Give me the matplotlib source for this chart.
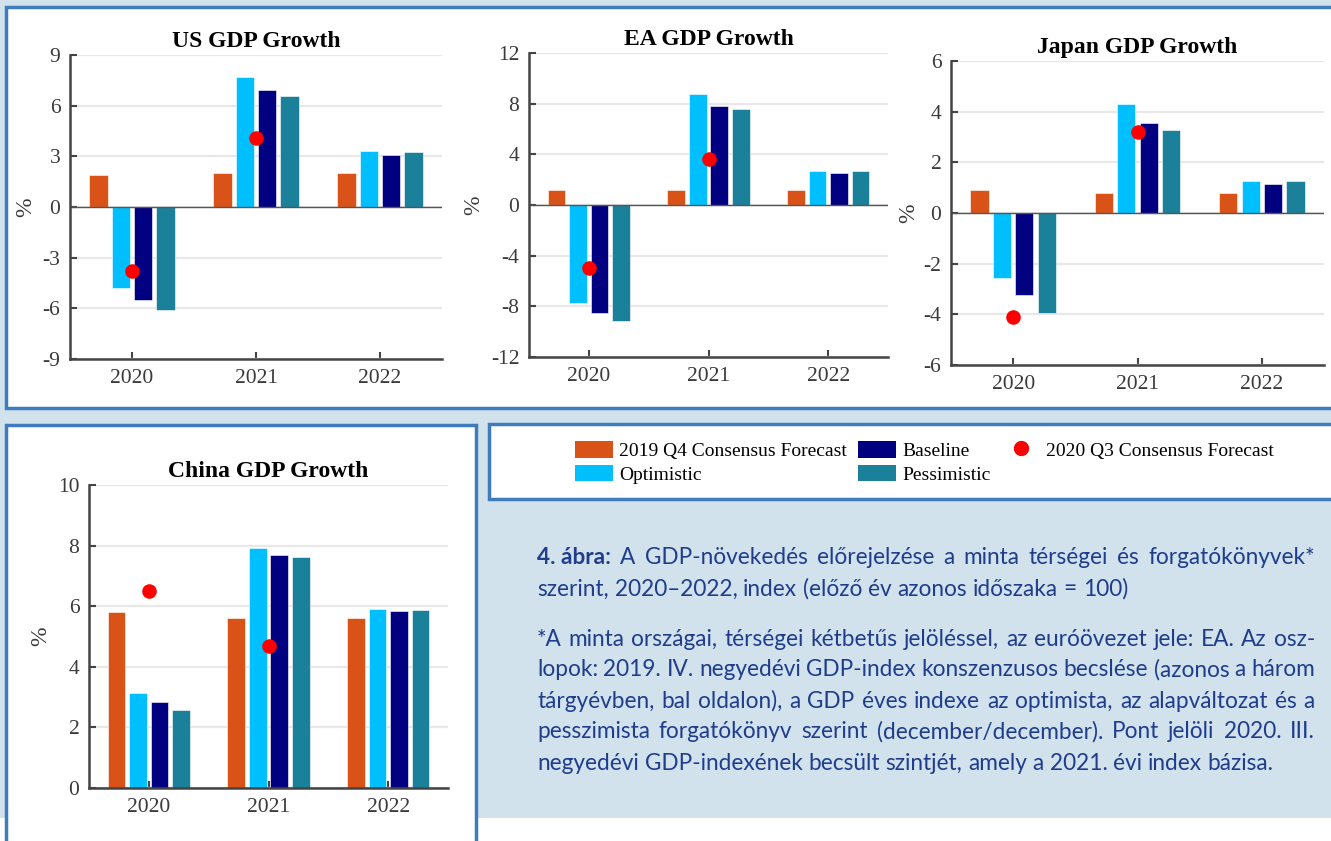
import matplotlib
matplotlib.use('Agg')
import matplotlib.pyplot as plt
import numpy as np
from matplotlib.patches import Rectangle, Patch
from matplotlib.lines import Line2D

plt.rcParams['axes.unicode_minus'] = False
plt.rcParams['font.family'] = 'Liberation Serif'

# Data.
years = [2020, 2021, 2022]
series_names = ['2019 Q4 Consensus Forecast', 'Optimistic', 'Baseline', 'Pessimistic']
dot_name = '2020 Q3 Consensus Forecast'
colors = ['#d95319', '#00bfff', '#000080', '#1b8099']

us_consensus = [1.9, 2.0, 2.0]
us_optimistic = [-4.8, 7.7, 3.3]
us_baseline = [-5.5, 6.9, 3.1]
us_pessimistic = [-6.1, 6.6, 3.25]
us_q3 = [-3.8, 4.1]

ea_consensus = [1.15, 1.15, 1.15]
ea_optimistic = [-7.75, 8.8, 2.7]
ea_baseline = [-8.5, 7.85, 2.5]
ea_pessimistic = [-9.15, 7.55, 2.65]
ea_q3 = [-5.0, 3.65]

jp_consensus = [0.9, 0.8, 0.8]
jp_optimistic = [-2.55, 4.3, 1.25]
jp_baseline = [-3.25, 3.55, 1.13]
jp_pessimistic = [-3.95, 3.27, 1.27]
jp_q3 = [-4.1, 3.2]

cn_consensus = [5.8, 5.6, 5.6]
cn_optimistic = [3.13, 7.93, 5.9]
cn_baseline = [2.85, 7.68, 5.84]
cn_pessimistic = [2.57, 7.64, 5.86]
cn_q3 = [6.5, 4.7]

caption_bold = '4. ábra:'
caption_lines = [
    'A GDP-növekedés előrejelzése a minta térségei és forgatókönyvek*',
    'szerint, 2020–2022, index (előző év azonos időszaka = 100)',
    '*A minta országai, térségei kétbetűs jelöléssel, az euróövezet jele: EA. Az osz-',
    'lopok: 2019. IV. negyedévi GDP-index konszenzusos becslése (azonos a három',
    'tárgyévben, bal oldalon), a GDP éves indexe az optimista, az alapváltozat és a',
    'pesszimista forgatókönyv szerint (december/december). Pont jelöli 2020. III.',
    'negyedévi GDP-indexének becsült szintjét, amely a 2021. évi index bázisa.',
]

W, H = 1331, 841
fig = plt.figure(figsize=(W / 100, H / 100), dpi=100)
fig.patch.set_facecolor('white')

bg = '#d1e2ec'
border = '#3f7cbd'
txt_blue = '#1f3d8c'


def px_rect(x0, y0, x1, y1, fc, ec='none', lw=0):
    r = Rectangle((x0 / W, 1 - y1 / H), (x1 - x0) / W, (y1 - y0) / H,
                  transform=fig.transFigure, facecolor=fc, edgecolor=ec,
                  linewidth=lw, zorder=-10)
    fig.patches.append(r)


def px_axes(l, t, r, b):
    return fig.add_axes([l / W, 1 - b / H, (r - l) / W, (b - t) / H])


# Background and boxes.
px_rect(-5, -5, W + 5, 818, bg)
px_rect(6, 7, W + 10, 408, 'white', border, 2.5)
px_rect(6, 425, 476, H + 10, 'white', border, 2.5)
px_rect(489, 424, W + 10, 499, 'white', border, 2.5)

x = np.arange(len(years))
step = 0.18
width = 0.147


def panel(ax, title, cons, opt, base, pess, q3, ylim, yticks, label_x):
    for i, (vals, c) in enumerate(zip([cons, opt, base, pess], colors)):
        ax.bar(x + (i - 1.5) * step, vals, width=width, color=c,
               edgecolor='white', linewidth=0.4, zorder=3)
    ax.axhline(0, color='#555555', lw=1.0, zorder=3.5)
    ax.scatter(x[:2], q3, s=110, color='#ff0000', zorder=5, linewidths=0)
    ax.set_xlim(-0.5, 2.5)
    ax.set_ylim(*ylim)
    ax.set_yticks(yticks)
    ax.set_xticks(x)
    ax.set_xticklabels([str(y) for y in years])
    ax.yaxis.grid(True, color='#e8e8e8', lw=1.6, zorder=0)
    ax.set_axisbelow(True)
    for s in ['top', 'right']:
        ax.spines[s].set_visible(False)
    for s in ['left', 'bottom']:
        ax.spines[s].set_color('#444444')
        ax.spines[s].set_linewidth(1.8)
        ax.spines[s].set_zorder(6)
    ax.tick_params(direction='in', length=5, width=1.5, color='#444444',
                   labelsize=15.5, labelcolor='#3a3a3a', pad=7)
    ax.set_title(title, fontsize=17, fontweight='bold', pad=6)
    ax.set_ylabel('%', fontsize=17, color='#3a3a3a')
    ax.yaxis.set_label_coords(label_x, 0.5)


ax1 = px_axes(70, 55, 442, 359)
panel(ax1, 'US GDP Growth', us_consensus, us_optimistic, us_baseline, us_pessimistic,
      us_q3, (-9, 9), np.arange(-9, 10, 3), -0.09)

ax2 = px_axes(529, 53, 888, 357)
panel(ax2, 'EA GDP Growth', ea_consensus, ea_optimistic, ea_baseline, ea_pessimistic,
      ea_q3, (-12, 12), np.arange(-12, 13, 4), -0.125)

ax3 = px_axes(951, 61, 1324, 365)
panel(ax3, 'Japan GDP Growth', jp_consensus, jp_optimistic, jp_baseline, jp_pessimistic,
      jp_q3, (-6, 6), np.arange(-6, 7, 2), -0.085)

ax4 = px_axes(89, 485, 448, 788)
panel(ax4, 'China GDP Growth', cn_consensus, cn_optimistic, cn_baseline, cn_pessimistic,
      cn_q3, (0, 10), np.arange(0, 11, 2), -0.105)

# Legend.
handles = [Patch(facecolor=colors[0]), Patch(facecolor=colors[1]),
           Patch(facecolor=colors[2]), Patch(facecolor=colors[3]),
           Line2D([], [], marker='o', color='#ff0000', linestyle='', markersize=10)]
labels = [series_names[0], series_names[1], series_names[2], series_names[3], dot_name]
leg = fig.legend(handles, labels, ncol=3, loc='upper left',
                 bbox_to_anchor=(575 / W, 1 - 441 / H), frameon=False,
                 prop={'family': 'Liberation Serif', 'size': 14},
                 handlelength=1.95, handleheight=0.93, handletextpad=0.3,
                 columnspacing=0.6, labelspacing=0.25, borderpad=0, borderaxespad=0)

# Caption text, justified word by word.
tfont = 'Lato'
tsize = 16.3
x_left, x_right = 537, 1315
line_y = [557, 589, 640, 670, 701, 732, 763]
justified = [True, False, True, True, True, True, False]
renderer = fig.canvas.get_renderer()
sp = fig.text(0, 0, 'a a', fontsize=tsize, family=tfont)
sp2 = fig.text(0, 0, 'aa', fontsize=tsize, family=tfont)
space_w = sp.get_window_extent(renderer).width - sp2.get_window_extent(renderer).width
sp.remove()
sp2.remove()
for k, (s, yy, just) in enumerate(zip(caption_lines, line_y, justified)):
    words = s.split(' ')
    if k == 0:
        words = [caption_bold] + words
    texts = []
    for j, w in enumerate(words):
        bold = (k == 0 and j == 0)
        t = fig.text(0, 1 - yy / H, w, fontsize=tsize, family=tfont, color=txt_blue,
                     fontweight='bold' if bold else 'normal', va='center', ha='left')
        texts.append(t)
    widths = [t.get_window_extent(renderer).width for t in texts]
    if just:
        gap = (x_right - x_left - sum(widths)) / (len(words) - 1)
    else:
        gap = space_w
    xx = x_left
    for t, w in zip(texts, widths):
        t.set_x(xx / W)
        xx += w + gap

plt.savefig('out.png', dpi=100)
plt.close()
